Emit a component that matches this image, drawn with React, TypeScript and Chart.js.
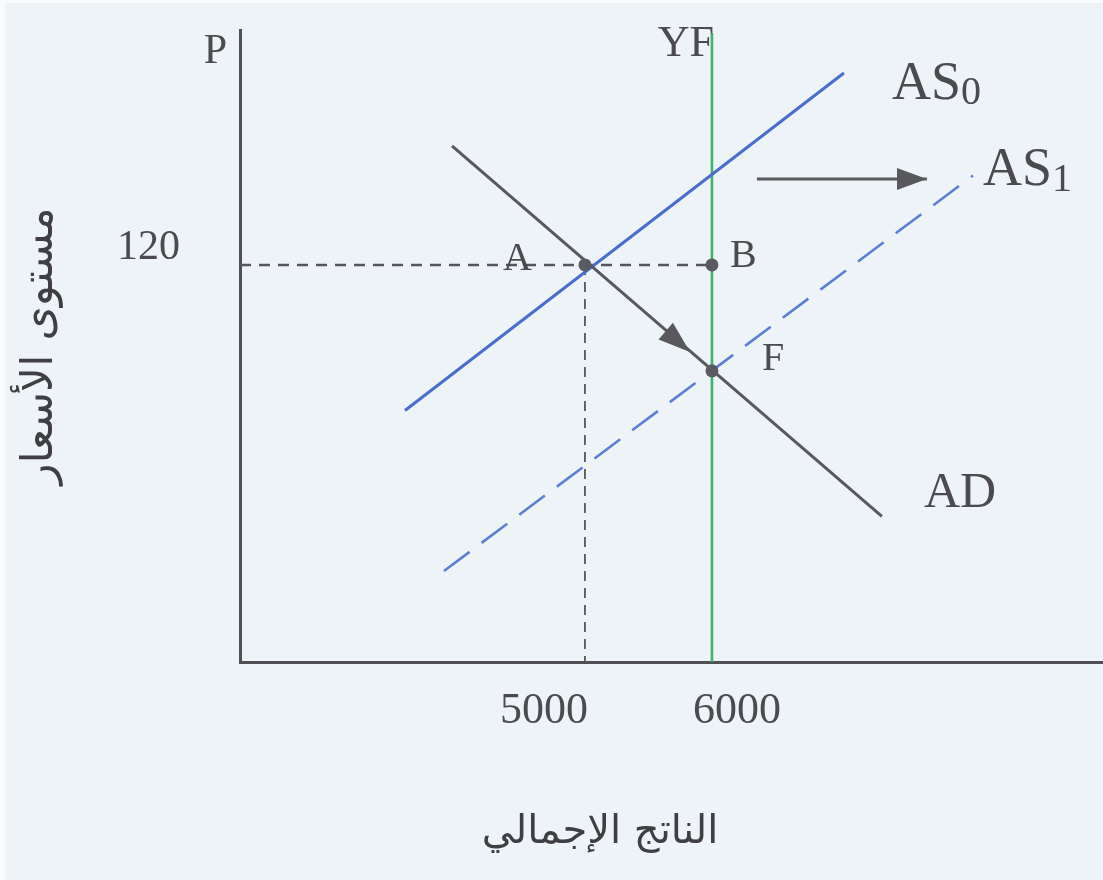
import React, { useEffect, useRef } from "react";
import { Chart, registerables } from "chart.js";

Chart.register(...registerables);

// Axis ranges: real output (x) and price level (y)
const xRange = [2284, 9079];
const yRange = [0, 191];

// Tick values and their labels
const xTickValues = [5000, 6000];
const xTickLabels = ["5000", "6000"];
const yTickValues = [120];
const yTickLabels = ["120"];

// Axis titles
const xTitle = "الناتج الإجمالي";
const yTitle = "مستوى الأسعار";
const yAxisName = "P";

// Initial aggregate supply AS0
const as0X = [3583, 7039];
const as0Y = [76, 178];

// Shifted aggregate supply AS1
const as1X = [3890, 8055];
const as1Y = [27.5, 147];

// Aggregate demand AD
const adX = [3953, 7338];
const adY = [156, 44];

// Full-employment output YF
const yfX = [6000, 6000];
const yfY = [0, 190];

// Equilibrium points
const pointNames = ["A", "B", "F"];
const pointX = [5000, 6000, 6000];
const pointY = [120, 120, 88];

// Dashed guides from A to the axes and to B
const priceGuideX = [2284, 6000];
const priceGuideY = [120, 120];
const outputGuideX = [5000, 5000];
const outputGuideY = [120, 0];

// Arrow showing the rightward shift of supply
const shiftArrowX = [6354, 7693];
const shiftArrowY = [146, 146];

// Arrow tip marking the movement along AD from A to F
const adArrowX = [5827];
const adArrowY = [93.7];

const BG = "#eef3f7";
const INK = "#4b4b4f";
const LINE_GRAY = "#58585d";
const BLUE = "#4a6ecf";
const BLUE_DASH = "#5a7fd4";
const GREEN = "#3eb46b";
const SERIF = "'Liberation Serif', 'Times New Roman', serif";
const ARABIC = "'DejaVu Sans', sans-serif";

const pts = (xs: number[], ys: number[]) => xs.map((x, i) => ({ x, y: ys[i] }));

function arrowHead(
  ctx: CanvasRenderingContext2D,
  tipX: number,
  tipY: number,
  angle: number,
  len: number,
  halfW: number,
  color: string
) {
  ctx.save();
  ctx.translate(tipX, tipY);
  ctx.rotate(angle);
  ctx.beginPath();
  ctx.moveTo(0, 0);
  ctx.lineTo(-len, -halfW);
  ctx.lineTo(-len, halfW);
  ctx.closePath();
  ctx.fillStyle = color;
  ctx.fill();
  ctx.restore();
}

function text(
  ctx: CanvasRenderingContext2D,
  s: string,
  x: number,
  y: number,
  size: number,
  align: CanvasTextAlign = "left",
  family: string = SERIF,
  color: string = INK
) {
  ctx.save();
  ctx.font = `${size}px ${family}`;
  ctx.fillStyle = color;
  ctx.textAlign = align;
  ctx.textBaseline = "alphabetic";
  ctx.fillText(s, x, y);
  ctx.restore();
}

const diagramPlugin = {
  id: "diagram",
  beforeDraw(chart: any) {
    const { ctx, width, height } = chart;
    ctx.save();
    ctx.fillStyle = BG;
    ctx.fillRect(0, 0, width, height);
    ctx.fillStyle = "#f9fbfd";
    ctx.fillRect(0, 0, 5, height);
    ctx.fillRect(0, 0, width, 3);
    ctx.restore();
  },
  afterDatasetsDraw(chart: any) {
    const { ctx } = chart;
    const xs = chart.scales.x;
    const ys = chart.scales.y;
    const px = (v: number) => xs.getPixelForValue(v);
    const py = (v: number) => ys.getPixelForValue(v);

    // arrowhead of the supply-shift arrow
    const sx0 = px(shiftArrowX[0]);
    const sy0 = py(shiftArrowY[0]);
    const sx1 = px(shiftArrowX[1]);
    const sy1 = py(shiftArrowY[1]);
    arrowHead(ctx, sx1, sy1, Math.atan2(sy1 - sy0, sx1 - sx0), 30, 11, LINE_GRAY);

    // arrowhead along the demand curve
    const adAngle = Math.atan2(py(adY[1]) - py(adY[0]), px(adX[1]) - px(adX[0]));
    arrowHead(ctx, px(adArrowX[0]), py(adArrowY[0]), adAngle, 32, 11, LINE_GRAY);

    // x tick labels
    const tickShift = [-41, 25];
    xTickValues.forEach((v, i) => {
      text(ctx, xTickLabels[i], px(v) + tickShift[i], 723, 44, "center");
    });

    // x axis title
    text(ctx, xTitle, 600, 843, 40, "center", ARABIC, "#3f3f43");

    // axis name P
    text(ctx, yAxisName, xs.left - 13, 63, 42, "right");

    // curve names
    text(ctx, "YF", px(yfX[1]) + 2, 56, 44, "right");

    const as0EndX = px(as0X[1]);
    const as0EndY = py(as0Y[1]);
    text(ctx, "AS", as0EndX + 48, as0EndY + 26, 54);
    text(ctx, "0", as0EndX + 48 + 69, as0EndY + 31, 40);

    const as1EndX = px(as1X[1]);
    const as1EndY = py(as1Y[1]);
    text(ctx, "AS", as1EndX + 10, as1EndY + 9, 54);
    text(ctx, "1", as1EndX + 10 + 69, as1EndY + 15, 40);

    text(ctx, "AD", px(adX[1]) + 42, py(adY[1]) - 9, 50);

    // point names
    const offsets = [
      [-82, 5],
      [18, 2],
      [50, -1],
    ];
    pointNames.forEach((n, i) => {
      const [dx, dy] = offsets[i];
      text(ctx, n, px(pointX[i]) + dx, py(pointY[i]) + dy, 40, "left");
    });
  },
};

export default function App() {
  const ref = useRef<HTMLCanvasElement>(null);

  useEffect(() => {
    const canvas = ref.current;
    if (!canvas) return;

    const chart = new Chart(canvas, {
      type: "line",
      data: {
        datasets: [
          {
            label: "points",
            data: pts(pointX, pointY),
            showLine: false,
            pointRadius: 6.5,
            pointBackgroundColor: "#5a5a60",
            pointBorderWidth: 0,
          },
          {
            label: "AD",
            data: pts(adX, adY),
            borderColor: LINE_GRAY,
            borderWidth: 3,
            pointRadius: 0,
          },
          {
            label: "AS0",
            data: pts(as0X, as0Y),
            borderColor: BLUE,
            borderWidth: 3,
            pointRadius: 0,
          },
          {
            label: "AS1",
            data: pts(as1X, as1Y),
            borderColor: BLUE_DASH,
            borderWidth: 2.6,
            borderDash: [32, 15],
            pointRadius: 0,
          },
          {
            label: "YF",
            data: pts(yfX, yfY),
            borderColor: GREEN,
            borderWidth: 2.6,
            pointRadius: 0,
          },
          {
            label: "price guide",
            data: pts(priceGuideX, priceGuideY),
            borderColor: "#56565a",
            borderWidth: 2.4,
            borderDash: [11, 8],
            pointRadius: 0,
          },
          {
            label: "output guide",
            data: pts(outputGuideX, outputGuideY),
            borderColor: "#56565a",
            borderWidth: 1.8,
            borderDash: [10, 7],
            pointRadius: 0,
          },
          {
            label: "shift",
            data: pts(shiftArrowX, shiftArrowY),
            borderColor: LINE_GRAY,
            borderWidth: 3,
            pointRadius: 0,
          },
        ],
      },
      options: {
        responsive: false,
        animation: false,
        events: [],
        layout: { autoPadding: false, padding: { top: 30, left: 0, right: 0, bottom: 0 } },
        plugins: {
          legend: { display: false },
          tooltip: { enabled: false },
        },
        elements: { line: { tension: 0 } },
        scales: {
          x: {
            type: "linear",
            min: xRange[0],
            max: xRange[1],
            grid: { display: false, drawTicks: false },
            border: { display: true, color: "#505054", width: 3 },
            ticks: { display: false },
            afterFit: (scale: any) => {
              scale.height = 218;
              scale.paddingLeft = 0;
              scale.paddingRight = 0;
            },
          },
          y: {
            type: "linear",
            min: yRange[0],
            max: yRange[1],
            grid: { display: false, drawTicks: false },
            border: { display: true, color: "#505054", width: 3 },
            afterBuildTicks: (scale: any) => {
              scale.ticks = yTickValues.map((value) => ({ value }));
            },
            ticks: {
              padding: 60,
              labelOffset: -17,
              color: INK,
              font: { family: SERIF, size: 42 },
              callback: (value: any) => {
                const i = yTickValues.indexOf(Number(value));
                return i >= 0 ? yTickLabels[i] : "";
              },
            },
            title: {
              display: true,
              text: yTitle,
              color: "#3f3f43",
              font: { family: ARABIC, size: 44 },
              padding: { top: 14, bottom: 0 },
            },
            afterFit: (scale: any) => {
              scale.width = 240;
              scale.paddingTop = 0;
              scale.paddingBottom = 0;
            },
          },
        },
      },
      plugins: [diagramPlugin],
    });

    return () => chart.destroy();
  }, []);

  return (
    <div
      style={{
        position: "fixed",
        left: 0,
        top: 0,
        width: 1103,
        height: 880,
        background: BG,
      }}
    >
      <canvas ref={ref} width={1103} height={880} style={{ display: "block" }} />
    </div>
  );
}
